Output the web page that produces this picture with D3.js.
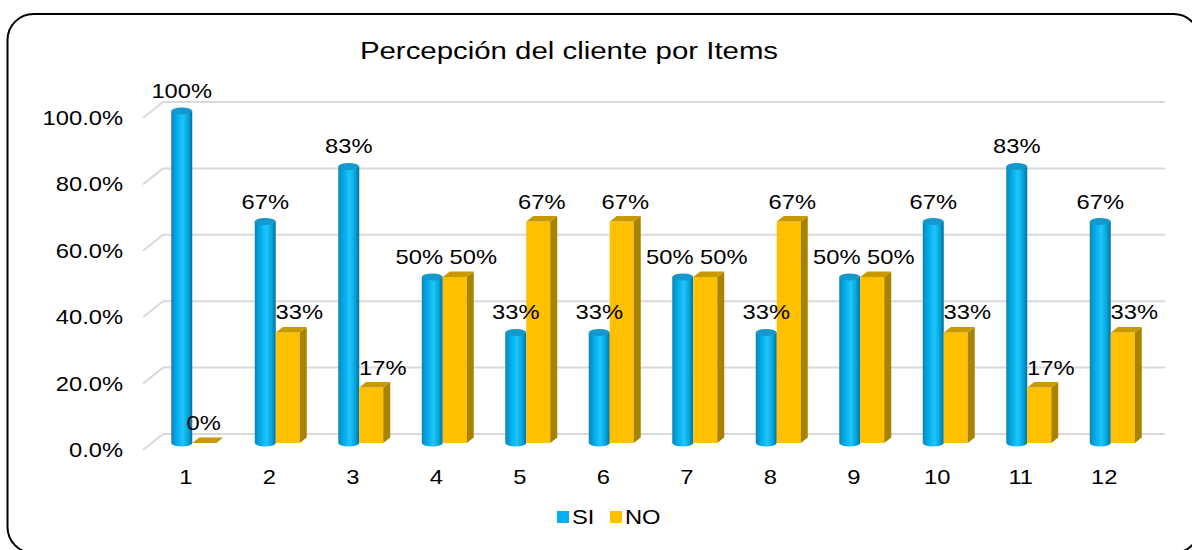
<!DOCTYPE html>
<html>
<head>
<meta charset="utf-8">
<script src="https://cdn.jsdelivr.net/npm/d3@7"></script>
<style>
  body { margin: 0; background: #fff; }
  svg { display: block; font-family: "Liberation Sans", Arial, sans-serif; }
</style>
</head>
<body>
<svg id="chart" width="1192" height="550"></svg>
<script>
//------------------------------------------------------------
// Data
const items = ["1", "2", "3", "4", "5", "6", "7", "8", "9", "10", "11", "12"];
const siValues = [1.00, 0.667, 0.833, 0.50, 0.333, 0.333, 0.50, 0.333, 0.50, 0.667, 0.833, 0.667];
const noValues = [0.00, 0.333, 0.167, 0.50, 0.667, 0.667, 0.50, 0.667, 0.50, 0.333, 0.167, 0.333];
const yTicks = [0, 0.2, 0.4, 0.6, 0.8, 1.0];
const seriesNames = ["SI", "NO"];

//------------------------------------------------------------
// Setup
const svg = d3.select("#chart");

// text in the reference looks horizontally stretched
function addText(parent, x, y, str, size, anchor, stretch = 1.13) {
  return parent.append("text")
    .attr("transform", `translate(${x},${y}) scale(${stretch},1)`)
    .attr("text-anchor", anchor || "middle")
    .style("font-size", size + "px")
    .attr("fill", "#000")
    .text(str);
}

// Frame
svg.append("rect")
  .attr("x", 7.5).attr("y", 14)
  .attr("width", 1192).attr("height", 539)
  .attr("rx", 26).attr("ry", 26)
  .attr("fill", "#fff")
  .attr("stroke", "#000")
  .attr("stroke-width", 2);

// 3D depth vector (front floor -> back wall)
const depth = { x: 20, y: -16 };

const x = d3.scaleBand().domain(items).range([143, 1145]);
const yFront = d3.scaleLinear().domain([0, 1]).range([450, 118]);
const yBar = d3.scaleLinear().domain([0, 1]).range([443, 111]);

// Gridlines: back wall + left wall diagonals
const grid = svg.append("g");
yTicks.forEach(t => {
  const y0 = yFront(t);
  grid.append("line")
    .attr("x1", 143).attr("y1", y0)
    .attr("x2", 143 + depth.x).attr("y2", y0 + depth.y)
    .attr("stroke", "#d9d9d9").attr("stroke-width", 2);
  grid.append("line")
    .attr("x1", 143 + depth.x).attr("y1", y0 + depth.y)
    .attr("x2", 1145 + depth.x).attr("y2", y0 + depth.y)
    .attr("stroke", "#d9d9d9").attr("stroke-width", 2);
});

// Y tick labels
yTicks.forEach(t => {
  addText(svg, 123, yFront(t) + 7, d3.format(".1%")(t), 21, "end");
});

// Category labels
items.forEach(c => {
  addText(svg, x(c) + x.bandwidth() / 2 + 1, 484, c, 21);
});

//------------------------------------------------------------
// Bars
const defs = svg.append("defs");
const grad = defs.append("linearGradient")
  .attr("id", "cyl").attr("x1", "0").attr("x2", "1").attr("y1", "0").attr("y2", "0");
[["0%", "#0a86b8"], ["30%", "#00b0ee"], ["55%", "#22c4fa"], ["80%", "#05a6dc"], ["100%", "#06709c"]]
  .forEach(([o, c]) => grad.append("stop").attr("offset", o).attr("stop-color", c));

const cylW = 21, boxW = 24, sideX = 7, sideY = -5.5;
const ry = 3.5;
const bars = svg.append("g");
const fmt = d3.format(".0%");

items.forEach((c, i) => {
  const b = x(c) + x.bandwidth() / 2 + 7.5; // boundary between the two bars
  const base = yBar(0);

  // SI cylinder
  const sTop = yBar(siValues[i]);
  const l = b - cylW, r = b, rx = cylW / 2;
  bars.append("path")
    .attr("d", `M${l},${sTop} L${l},${base} A${rx},${ry} 0 0 0 ${r},${base} L${r},${sTop} Z`)
    .attr("fill", "url(#cyl)");
  bars.append("ellipse")
    .attr("cx", l + rx).attr("cy", sTop)
    .attr("rx", rx).attr("ry", ry)
    .attr("fill", "#1598cc");

  // NO box
  const nTop = yBar(noValues[i]);
  bars.append("rect")
    .attr("x", b).attr("y", nTop)
    .attr("width", boxW).attr("height", base - nTop)
    .attr("fill", "#ffc000");
  bars.append("path")
    .attr("d", `M${b + boxW},${nTop} L${b + boxW + sideX},${nTop + sideY} L${b + boxW + sideX},${base + sideY} L${b + boxW},${base} Z`)
    .attr("fill", "#a88300");
  bars.append("path")
    .attr("d", `M${b},${nTop} L${b + sideX},${nTop + sideY} L${b + boxW + sideX},${nTop + sideY} L${b + boxW},${nTop} Z`)
    .attr("fill", "#c99a00");

  // Data labels (spread apart when both values are equal)
  let dxSi = 0, dxNo = 0;
  if (siValues[i] === noValues[i]) { dxSi = -13; dxNo = 15; }
  else if (noValues[i] > 0 && noValues[i] < siValues[i]) { dxNo = 8; }
  else if (noValues[i] === 0) { dxNo = -4; }
  addText(svg, l + rx + dxSi, sTop - 13, fmt(siValues[i]), 21);
  addText(svg, b + boxW / 2 + 3.5 + dxNo, nTop - 13, fmt(noValues[i]), 21);
});

//------------------------------------------------------------
// Title
addText(svg, 569, 59, "Percepción del cliente por Items", 24.5, "middle", 1.2);

// Legend
const legend = svg.append("g");
const legendColors = ["#00b0f0", "#ffc000"];
const legendX = [557, 610];
seriesNames.forEach((s, i) => {
  legend.append("rect")
    .attr("x", legendX[i]).attr("y", 511)
    .attr("width", 12).attr("height", 12)
    .attr("fill", legendColors[i]);
  addText(legend, legendX[i] + 15, 524, s, 21, "start");
});
</script>
</body>
</html>
